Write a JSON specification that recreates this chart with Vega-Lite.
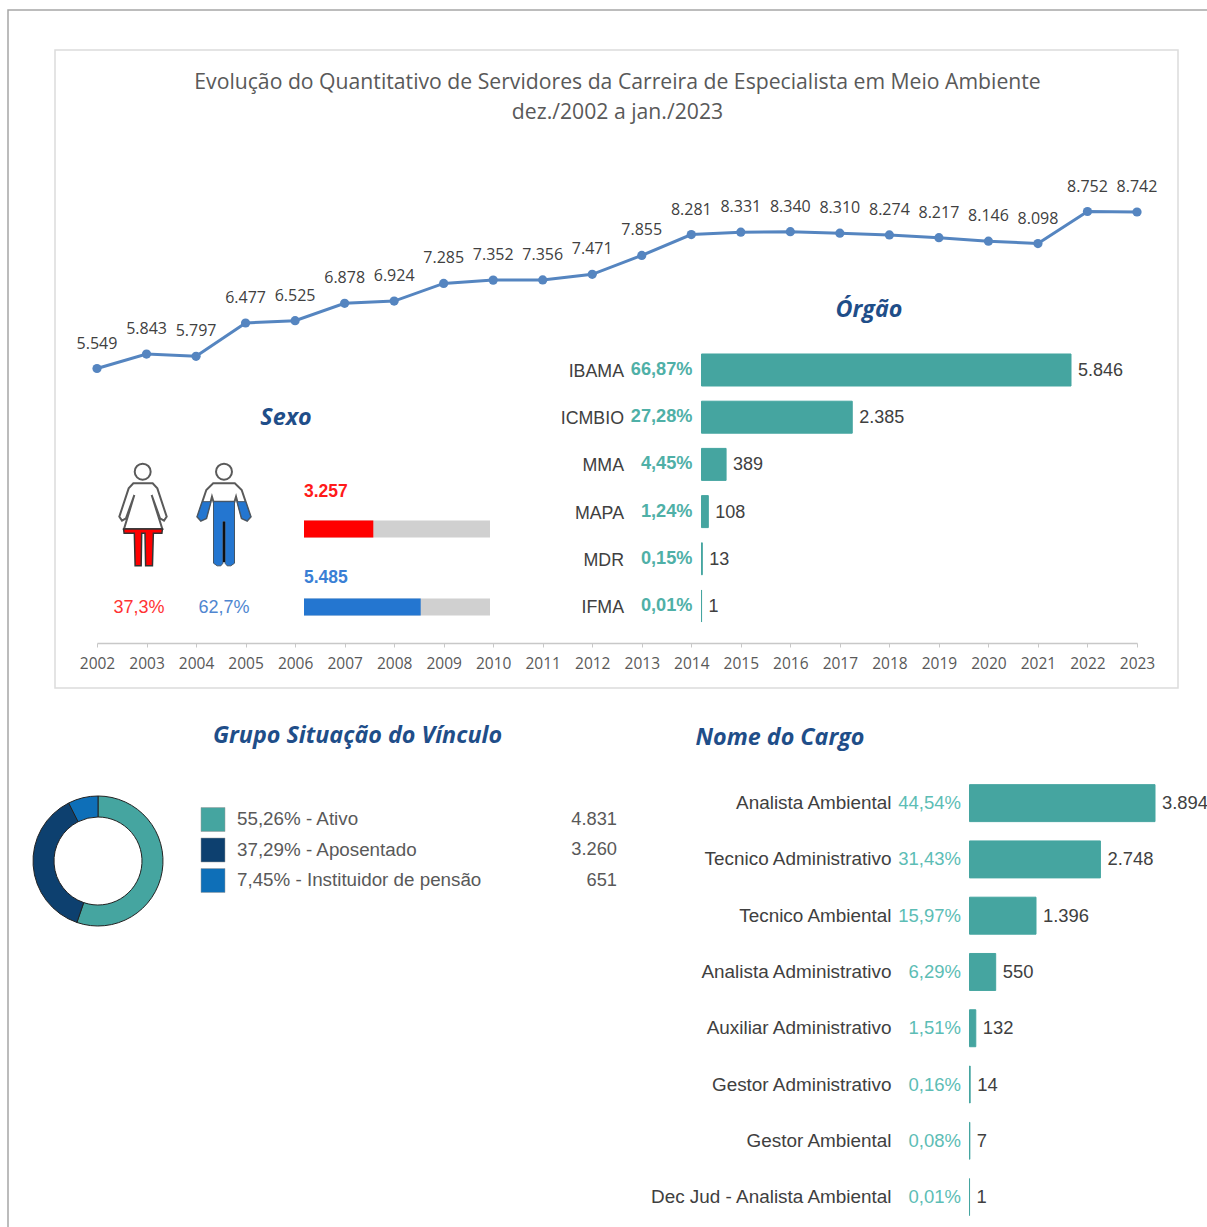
{
"$schema":"https://vega.github.io/schema/vega-lite/v6.json",
"width":1207,"height":1227,"padding":0,"autosize":"none","background":"white",
"config":{"view":{"stroke":null},"axis":{"grid":false}},
"title":{"text":["Evolução do Quantitativo de Servidores da Carreira de Especialista em Meio Ambiente","dez./2002 a jan./2023"],"anchor":"middle","frame":"group","orient":"top","offset":-144,"dx":14,"font":"Open Sans","fontSize":21.2,"fontWeight":"normal","color":"#595959","lineHeight":30,"baseline":"bottom"},
"datasets":{
"serie":[{"ano":2002,"servidores":5549,"rotulo":"5.549"},{"ano":2003,"servidores":5843,"rotulo":"5.843"},{"ano":2004,"servidores":5797,"rotulo":"5.797"},{"ano":2005,"servidores":6477,"rotulo":"6.477"},{"ano":2006,"servidores":6525,"rotulo":"6.525"},{"ano":2007,"servidores":6878,"rotulo":"6.878"},{"ano":2008,"servidores":6924,"rotulo":"6.924"},{"ano":2009,"servidores":7285,"rotulo":"7.285"},{"ano":2010,"servidores":7352,"rotulo":"7.352"},{"ano":2011,"servidores":7356,"rotulo":"7.356"},{"ano":2012,"servidores":7471,"rotulo":"7.471"},{"ano":2013,"servidores":7855,"rotulo":"7.855"},{"ano":2014,"servidores":8281,"rotulo":"8.281"},{"ano":2015,"servidores":8331,"rotulo":"8.331"},{"ano":2016,"servidores":8340,"rotulo":"8.340"},{"ano":2017,"servidores":8310,"rotulo":"8.310"},{"ano":2018,"servidores":8274,"rotulo":"8.274"},{"ano":2019,"servidores":8217,"rotulo":"8.217"},{"ano":2020,"servidores":8146,"rotulo":"8.146"},{"ano":2021,"servidores":8098,"rotulo":"8.098"},{"ano":2022,"servidores":8752,"rotulo":"8.752"},{"ano":2023,"servidores":8742,"rotulo":"8.742"}],
"orgao":[{"orgao":"IBAMA","valor":5846,"pct":"66,87%","rotulo":"5.846"},{"orgao":"ICMBIO","valor":2385,"pct":"27,28%","rotulo":"2.385"},{"orgao":"MMA","valor":389,"pct":"4,45%","rotulo":"389"},{"orgao":"MAPA","valor":108,"pct":"1,24%","rotulo":"108"},{"orgao":"MDR","valor":13,"pct":"0,15%","rotulo":"13"},{"orgao":"IFMA","valor":1,"pct":"0,01%","rotulo":"1"}],
"cargo":[{"cargo":"Analista Ambiental","valor":3894,"pct":"44,54%","rotulo":"3.894"},{"cargo":"Tecnico Administrativo","valor":2748,"pct":"31,43%","rotulo":"2.748"},{"cargo":"Tecnico Ambiental","valor":1396,"pct":"15,97%","rotulo":"1.396"},{"cargo":"Analista Administrativo","valor":550,"pct":"6,29%","rotulo":"550"},{"cargo":"Auxiliar Administrativo","valor":132,"pct":"1,51%","rotulo":"132"},{"cargo":"Gestor Administrativo","valor":14,"pct":"0,16%","rotulo":"14"},{"cargo":"Gestor Ambiental","valor":7,"pct":"0,08%","rotulo":"7"},{"cargo":"Dec Jud - Analista Ambiental","valor":1,"pct":"0,01%","rotulo":"1"}],
"sexo":[{"sexo":"Feminino","total":3257,"geral":8742,"pct":"37,3%","rotulo":"3.257"},{"sexo":"Masculino","total":5485,"geral":8742,"pct":"62,7%","rotulo":"5.485"}],
"vinculo":[{"vinculo":"Ativo","ordem":1,"valor":4831,"legenda":"55,26% - Ativo","rotulo":"4.831"},{"vinculo":"Aposentado","ordem":2,"valor":3260,"legenda":"37,29% - Aposentado","rotulo":"3.260"},{"vinculo":"Instituidor de pensão","ordem":3,"valor":651,"legenda":"7,45% - Instituidor de pensão","rotulo":"651"}]
},
"resolve":{"scale":{"x":"independent","y":"independent"},"axis":{"x":"independent","y":"independent"}},
"layer":[
{"data":{"values":[{"inicio":0,"fim":1}]},
 "mark":{"type":"rect","fillOpacity":0,"stroke":"#a6a6a6","strokeWidth":1.5},
 "encoding":{"x":{"field":"inicio","type":"quantitative","axis":null,"scale":{"domain":[0,1],"range":[8,1300]}},"x2":{"field":"fim"},"y":{"field":"inicio","type":"quantitative","axis":null,"scale":{"domain":[0,1],"range":[10,1300]}},"y2":{"field":"fim"}}},
{"data":{"values":[{"inicio":0,"fim":1}]},
 "mark":{"type":"rect","fillOpacity":0,"stroke":"#dcdcdc","strokeWidth":1.5},
 "encoding":{"x":{"field":"inicio","type":"quantitative","axis":null,"scale":{"domain":[0,1],"range":[55,1178]}},"x2":{"field":"fim"},"y":{"field":"inicio","type":"quantitative","axis":null,"scale":{"domain":[0,1],"range":[50,688]}},"y2":{"field":"fim"}}},
{"data":{"name":"serie"},
 "encoding":{
  "x":{"field":"ano","type":"quantitative","scale":{"domain":[2002,2023],"range":[97,1137],"nice":false,"zero":false},
   "axis":{"orient":"bottom","offset":-584,"title":null,"format":"d","values":[2002,2003,2004,2005,2006,2007,2008,2009,2010,2011,2012,2013,2014,2015,2016,2017,2018,2019,2020,2021,2022,2023],"labelFont":"Open Sans","labelFontSize":15.5,"labelColor":"#595959","labelPadding":9,"domainColor":"#c8c8c8","domainWidth":1.5,"tickColor":"#c8c8c8","tickSize":4,"labelOverlap":false,"labelFlush":false,"zindex":1}},
  "y":{"field":"servidores","type":"quantitative","axis":null,"scale":{"domain":[5549,8752],"range":[368.5,211.5],"nice":false,"zero":false}}},
 "layer":[
  {"mark":{"type":"line","color":"#5585c0","strokeWidth":3}},
  {"mark":{"type":"point","filled":true,"fill":"#5585c0","size":85,"opacity":1}},
  {"mark":{"type":"text","dy":-25,"font":"Open Sans","fontSize":16,"fill":"#404040"},"encoding":{"text":{"field":"rotulo"}}}
 ]},
{"data":{"name":"orgao"},
 "encoding":{
  "x":{"field":"valor","type":"quantitative","axis":null,"scale":{"domain":[0,5846],"range":[701.5,1071],"nice":false}},
  "y":{"field":"orgao","type":"nominal","axis":null,"scale":{"type":"band","domain":["IBAMA","ICMBIO","MMA","MAPA","MDR","IFMA"],"range":[346.4,629.6],"paddingInner":0.322,"paddingOuter":0.161}}},
 "layer":[
  {"mark":{"type":"bar","fill":"#45a5a0","stroke":"#45a5a0","strokeWidth":1}},
  {"mark":{"type":"text","align":"left","dx":7,"dy":1,"font":"Liberation Sans","fontSize":18,"fill":"#404040"},"encoding":{"text":{"field":"rotulo"}}},
  {"mark":{"type":"text","align":"right","dx":-9,"font":"Liberation Sans","fontWeight":"bold","fontSize":18.2,"fill":"#4fb0a7"},"encoding":{"x":{"datum":0,"type":"quantitative"},"text":{"field":"pct"}}},
  {"mark":{"type":"text","align":"right","dx":-77.5,"dy":2,"font":"Liberation Sans","fontSize":17.8,"fill":"#404040"},"encoding":{"x":{"datum":0,"type":"quantitative"},"text":{"field":"orgao"}}}
 ]},
{"data":{"values":[{"titulo":"Órgão"}]},
 "mark":{"type":"text","font":"Open Sans","fontStyle":"italic","fontWeight":"bold","fontSize":23.3,"fill":"#1f4e89"},
 "encoding":{"x":{"datum":0,"type":"quantitative","axis":null,"scale":{"domain":[0,1],"range":[869,870]}},"y":{"datum":0,"type":"quantitative","axis":null,"scale":{"domain":[0,1],"range":[310,311]}},"text":{"field":"titulo"}}},
{"data":{"name":"cargo"},
 "encoding":{
  "x":{"field":"valor","type":"quantitative","axis":null,"scale":{"domain":[0,3894],"range":[969.5,1155],"nice":false}},
  "y":{"field":"cargo","type":"nominal","axis":null,"scale":{"type":"band","domain":["Analista Ambiental","Tecnico Administrativo","Tecnico Ambiental","Analista Administrativo","Auxiliar Administrativo","Gestor Administrativo","Gestor Ambiental","Dec Jud - Analista Ambiental"],"range":[775,1225.2],"paddingInner":0.343,"paddingOuter":0.1715}}},
 "layer":[
  {"mark":{"type":"bar","fill":"#45a5a0","stroke":"#45a5a0","strokeWidth":1}},
  {"mark":{"type":"text","align":"left","dx":7,"font":"Liberation Sans","fontSize":18.4,"fill":"#404040"},"encoding":{"text":{"field":"rotulo"}}},
  {"mark":{"type":"text","align":"right","dx":-8.5,"font":"Liberation Sans","fontSize":18.5,"fill":"#5cbdb5"},"encoding":{"x":{"datum":0,"type":"quantitative"},"text":{"field":"pct"}}},
  {"mark":{"type":"text","align":"right","dx":-78,"font":"Liberation Sans","fontSize":18.9,"fill":"#404040"},"encoding":{"x":{"datum":0,"type":"quantitative"},"text":{"field":"cargo"}}}
 ]},
{"data":{"values":[{"titulo":"Nome do Cargo"}]},
 "mark":{"type":"text","font":"Open Sans","fontStyle":"italic","fontWeight":"bold","fontSize":23.3,"fill":"#1f4e89"},
 "encoding":{"x":{"datum":0,"type":"quantitative","axis":null,"scale":{"domain":[0,1],"range":[780,781]}},"y":{"datum":0,"type":"quantitative","axis":null,"scale":{"domain":[0,1],"range":[738,739]}},"text":{"field":"titulo"}}},
{"data":{"name":"sexo"},
 "encoding":{
  "x":{"field":"geral","type":"quantitative","axis":null,"scale":{"domain":[0,8742],"range":[304,490],"nice":false}},
  "y":{"field":"sexo","type":"nominal","axis":null,"scale":{"type":"band","domain":["Feminino","Masculino"],"range":[490,646],"paddingInner":0.782,"paddingOuter":0.391}}},
 "layer":[
  {"mark":{"type":"bar","fill":"#d0d0d0"}},
  {"mark":{"type":"bar"},"encoding":{"x":{"field":"total","type":"quantitative"},"color":{"field":"sexo","type":"nominal","legend":null,"scale":{"domain":["Feminino","Masculino","Ativo","Aposentado","Instituidor de pensão"],"range":["#ff0000","#2476d0","#45a5a0","#0d406f","#0e6fb8"]}}}},
  {"transform":[{"filter":"datum.sexo === 'Feminino'"}],"mark":{"type":"text","align":"left","dx":0,"dy":-37,"font":"Liberation Sans","fontWeight":"bold","fontSize":17.5,"fill":"#ff1a1a"},"encoding":{"x":{"datum":0,"type":"quantitative"},"text":{"field":"rotulo"}}},
  {"transform":[{"filter":"datum.sexo === 'Masculino'"}],"mark":{"type":"text","align":"left","dx":0,"dy":-29,"font":"Liberation Sans","fontWeight":"bold","fontSize":17.5,"fill":"#3a7fd5"},"encoding":{"x":{"datum":0,"type":"quantitative"},"text":{"field":"rotulo"}}}
 ]},
{"data":{"values":[{"titulo":"Sexo"}]},
 "mark":{"type":"text","font":"Open Sans","fontStyle":"italic","fontWeight":"bold","fontSize":23.3,"fill":"#1f4e89"},
 "encoding":{"x":{"datum":0,"type":"quantitative","axis":null,"scale":{"domain":[0,1],"range":[286,287]}},"y":{"datum":0,"type":"quantitative","axis":null,"scale":{"domain":[0,1],"range":[418,419]}},"text":{"field":"titulo"}}},
{"data":{"name":"sexo"},
 "encoding":{
  "x":{"field":"sexo","type":"nominal","axis":null,"scale":{"type":"point","domain":["Feminino","Masculino"],"range":[143,224],"padding":0}},
  "y":{"datum":"icone","type":"nominal","axis":null,"scale":{"type":"point","domain":["icone","percentual"],"range":[517,607],"padding":0}}},
 "layer":[
  {"transform":[{"filter":"datum.sexo === 'Feminino'"}],
   "mark":{"type":"point","filled":true,"fill":"white","stroke":"#5a5a5a","strokeWidth":2,"opacity":1,"size":11025,"shape":"M-.184 -.641L.184 -.641L.273 -.546L.451 -.006L.4 .07L.324 .025L.165 -.419L.368 .229L-.362 .229L-.165 -.419L-.324 .025L-.4 .07L-.451 -.006L-.273 -.546ZM-.158 -.863a.152 .152 0 1 0 .304 0a.152 .152 0 1 0 -.304 0Z"}},
  {"transform":[{"filter":"datum.sexo === 'Feminino'"}],
   "mark":{"type":"point","filled":true,"fill":"#ff0000","stroke":"#333333","strokeWidth":1.5,"opacity":1,"size":11025,"shape":"M-.37 .229L.37 .229L.36 .31L.197 .31L.18 .93L.05 .93L.038 .31L-.025 .31L-.035 .93L-.15 .93L-.165 .31L-.36 .31Z"}},
  {"transform":[{"filter":"datum.sexo === 'Masculino'"}],
   "mark":{"type":"point","filled":true,"fill":"white","stroke":"#5a5a5a","strokeWidth":2,"opacity":1,"size":11025,"shape":"M-.206 -.641L.206 -.641L.337 -.514L.508 -.006L.44 .07L.337 .025L.229 -.387L.2 -.292L-.2 -.292L-.229 -.387L-.337 .025L-.44 .07L-.508 -.006L-.337 -.514ZM-.152 -.863a.152 .152 0 1 0 .304 0a.152 .152 0 1 0 -.304 0Z"}},
  {"transform":[{"filter":"datum.sexo === 'Masculino'"}],
   "mark":{"type":"point","filled":true,"fill":"#2476d0","stroke":"#445566","strokeWidth":1,"opacity":1,"size":11025,"shape":"M-.2 -.292L.2 -.292L.2 .88L.13 .93L.06 .93L.02 .88L.02 .09L-.02 .09L-.02 .88L-.06 .93L-.13 .93L-.2 .88ZM.25 -.292L.412 -.292L.508 -.006L.44 .07L.337 .025ZM-.25 -.292L-.412 -.292L-.508 -.006L-.44 .07L-.337 .025Z"}},
  {"transform":[{"filter":"datum.sexo === 'Masculino'"}],
   "mark":{"type":"point","filled":true,"fill":"#111111","strokeWidth":0,"opacity":1,"size":11025,"shape":"M-.02 .09L.02 .09L.02 .86L-.02 .86Z"}},
  {"transform":[{"filter":"datum.sexo === 'Feminino'"}],"mark":{"type":"text","dx":-4,"dy":1,"font":"Liberation Sans","fontSize":18,"fill":"#ff3333"},"encoding":{"y":{"datum":"percentual","type":"nominal"},"text":{"field":"pct"}}},
  {"transform":[{"filter":"datum.sexo === 'Masculino'"}],"mark":{"type":"text","dy":1,"font":"Liberation Sans","fontSize":18,"fill":"#4f86d0"},"encoding":{"y":{"datum":"percentual","type":"nominal"},"text":{"field":"pct"}}}
 ]},
{"data":{"name":"vinculo"},
 "mark":{"type":"arc","innerRadius":44,"outerRadius":65,"stroke":"#222222","strokeWidth":1},
 "encoding":{
  "x":{"datum":0,"type":"quantitative","axis":null,"scale":{"domain":[-1,1],"range":[33,163]}},
  "y":{"datum":0,"type":"quantitative","axis":null,"scale":{"domain":[-1,1],"range":[926,796]}},
  "theta":{"field":"valor","type":"quantitative","stack":true},
  "order":{"field":"ordem"},
  "color":{"field":"vinculo","type":"nominal","legend":null}}},
{"data":{"name":"vinculo"},
 "encoding":{
  "x":{"datum":0,"type":"quantitative","axis":null,"scale":{"domain":[0,1],"range":[213,617]}},
  "y":{"field":"vinculo","type":"nominal","axis":null,"scale":{"type":"point","domain":["Ativo","Aposentado","Instituidor de pensão"],"range":[819.5,880.5],"padding":0}}},
 "layer":[
  {"mark":{"type":"point","shape":"square","filled":true,"size":576,"opacity":1,"stroke":"#999999","strokeWidth":0.5},"encoding":{"color":{"field":"vinculo","type":"nominal","legend":null}}},
  {"mark":{"type":"text","align":"left","dx":24,"dy":-0.5,"font":"Liberation Sans","fontSize":18.8,"fill":"#595959"},"encoding":{"text":{"field":"legenda"}}},
  {"mark":{"type":"text","align":"right","font":"Liberation Sans","fontSize":18.3,"fill":"#595959"},"encoding":{"x":{"datum":1,"type":"quantitative"},"text":{"field":"rotulo"}}},
  {"data":{"values":[{"titulo":"Grupo Situação do Vínculo"}]},"mark":{"type":"text","dx":144.5,"dy":-84,"font":"Open Sans","fontStyle":"italic","fontWeight":"bold","fontSize":23.3,"fill":"#1f4e89"},"encoding":{"y":{"datum":"Ativo","type":"nominal"},"text":{"field":"titulo"}}}
 ]}
]}
